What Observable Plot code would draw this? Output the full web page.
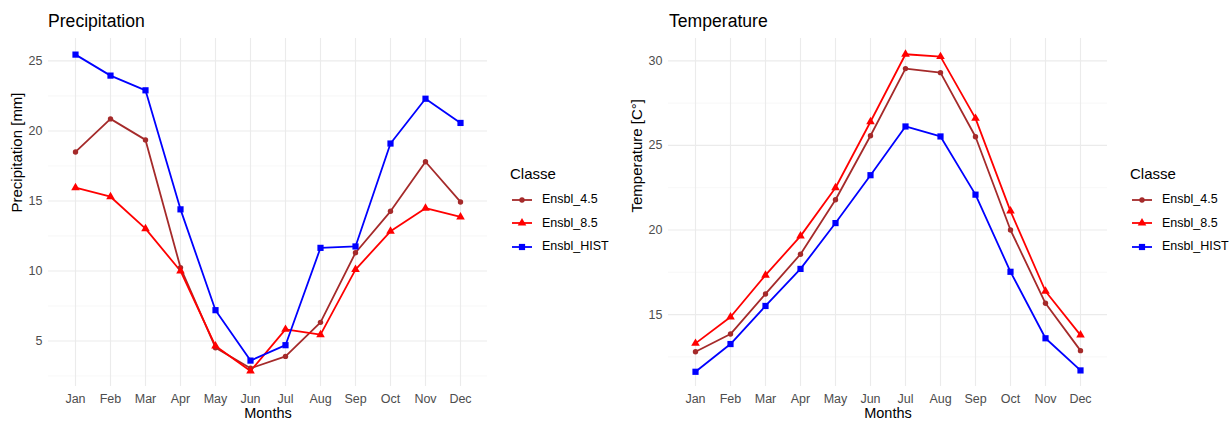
<!DOCTYPE html>
<html><head><meta charset="utf-8">
<script src="https://cdn.jsdelivr.net/npm/d3@7"></script>
<script src="https://cdn.jsdelivr.net/npm/@observablehq/plot@0.6"></script>
<style>
body{margin:0;background:#fff;font-family:"Liberation Sans",Arial,sans-serif;}
#root{position:relative;width:1231px;height:421px;overflow:hidden;background:#fff;}
.title{position:absolute;font-size:17.6px;line-height:17.6px;color:#000;white-space:nowrap;}
.panel{position:absolute;top:30px;}
.legend{position:absolute;top:0;}
.ltitle{position:absolute;font-size:15px;line-height:15px;color:#000;white-space:nowrap;}
.litem{position:absolute;font-size:12.5px;line-height:12.5px;color:#000;white-space:nowrap;}
</style></head><body><div id="root"></div>
<script>
const months = ["Jan","Feb","Mar","Apr","May","Jun","Jul","Aug","Sep","Oct","Nov","Dec"];
const classes = ["Ensbl_4.5","Ensbl_8.5","Ensbl_HIST"];
const colors = ["#A52A2A","#FF0000","#0000FF"];
const symbols = ["circle","triangle","square"];

// Precipitation [mm]
const precip45   = [18.5, 20.86, 19.36, 10.24, 4.52, 3.05, 3.9, 6.33, 11.3, 14.26, 17.8, 14.93];
const precip85   = [15.95, 15.3, 13.02, 10.0, 4.64, 2.86, 5.83, 5.45, 10.1, 12.83, 14.48, 13.86];
const precipHIST = [25.45, 23.95, 22.9, 14.4, 7.2, 3.6, 4.7, 11.65, 11.75, 19.1, 22.3, 20.57];
const precipTicks = [5, 10, 15, 20, 25];
const precipMinor = [2.5, 7.5, 12.5, 17.5, 22.5];

// Temperature [C°]
const temp45   = [12.8, 13.85, 16.22, 18.57, 21.79, 25.57, 29.54, 29.3, 25.51, 20.0, 15.67, 12.87];
const temp85   = [13.3, 14.86, 17.33, 19.64, 22.5, 26.4, 30.39, 30.25, 26.6, 21.12, 16.38, 13.79];
const tempHIST = [11.62, 13.26, 15.51, 17.7, 20.41, 23.24, 26.12, 25.53, 22.09, 17.53, 13.6, 11.7];
const tempTicks = [15, 20, 25, 30];
const tempMinor = [12.5, 17.5, 22.5, 27.5];

const root = document.getElementById("root");
const FONT = "Liberation Sans, Arial, sans-serif";
const symbolRadius = {circle: 2.7, triangle: 3.2, square: 3.5};
const LINE_W = 1.8;

function panel(series, yDomain, yTicks, yMinor, yLabel) {
  const data = [];
  classes.forEach((c, i) => series[i].forEach((v, j) => data.push({month: months[j], value: v, classe: c})));
  const dots = classes.map((c, i) =>
    Plot.dot(data.filter(d => d.classe === c), {x: "month", y: "value", symbol: "classe", fill: "classe", r: symbolRadius[symbols[i]]}));
  return Plot.plot({
    width: 495, height: 391,
    marginLeft: 48, marginRight: 8, marginTop: 8, marginBottom: 35,
    style: {fontFamily: FONT, fontSize: "12.5px", background: "transparent", overflow: "visible"},
    x: {type: "point", domain: months, padding: 0.6, label: null},
    y: {domain: yDomain, label: null},
    color: {domain: classes, range: colors},
    symbol: {domain: classes, range: symbols},
    marks: [
      Plot.ruleY(yMinor, {stroke: "#F3F3F3", strokeWidth: 0.7}),
      Plot.ruleY(yTicks, {stroke: "#EBEBEB", strokeWidth: 1.1}),
      Plot.ruleX(months, {stroke: "#EBEBEB", strokeWidth: 1.1}),
      Plot.axisX({tickSize: 0, tickPadding: 7.5, fill: "#4D4D4D", fontSize: 12.5, label: null}),
      Plot.axisY({ticks: yTicks, tickSize: 0, tickPadding: 6, fill: "#4D4D4D", fontSize: 12.5, label: null}),
      Plot.text(["Months"], {frameAnchor: "bottom", lineAnchor: "middle", text: d => d, dy: 26.5, fontSize: 14.5, fill: "#000"}),
      Plot.text([yLabel], {frameAnchor: "left", lineAnchor: "middle", text: d => d, dx: -31, rotate: -90, fontSize: 15, fill: "#000"}),
      Plot.line(data, {x: "month", y: "value", stroke: "classe", z: "classe", strokeWidth: LINE_W}),
      ...dots
    ]
  });
}

function addTitle(text, left) {
  const d = document.createElement("div");
  d.className = "title"; d.textContent = text;
  d.style.left = left + "px"; d.style.top = "12.6px";
  root.appendChild(d);
}

function addLegend(left) {
  const g = document.createElement("div");
  g.className = "legend"; g.style.left = left + "px";
  const t = document.createElement("div");
  t.className = "ltitle"; t.textContent = "Classe";
  t.style.left = "0px"; t.style.top = "166px";
  g.appendChild(t);
  const ys = [199.5, 223, 246.5];
  classes.forEach((c, i) => {
    const svg = d3.create("svg").attr("width", 24).attr("height", 12)
      .style("position", "absolute").style("left", "0px").style("top", (ys[i] - 6) + "px");
    svg.append("line").attr("x1", 2).attr("x2", 22).attr("y1", 6).attr("y2", 6)
      .attr("stroke", colors[i]).attr("stroke-width", LINE_W);
    const sym = {circle: d3.symbolCircle, triangle: d3.symbolTriangle, square: d3.symbolSquare}[symbols[i]];
    const r = symbolRadius[symbols[i]];
    svg.append("path").attr("transform", "translate(12,6)")
      .attr("d", d3.symbol(sym, r * r * Math.PI)()).attr("fill", colors[i]);
    g.appendChild(svg.node());
    const l = document.createElement("div");
    l.className = "litem"; l.textContent = c;
    l.style.left = "32px"; l.style.top = (ys[i] - 6.1) + "px";
    g.appendChild(l);
  });
  root.appendChild(g);
}

const p1 = panel([precip45, precip85, precipHIST], [1.75, 26.6], precipTicks, precipMinor, "Precipitation [mm]");
p1.classList.add("panel"); p1.style.left = "0px";
root.appendChild(p1);
addTitle("Precipitation", 48);
addLegend(510);

const p2 = panel([temp45, temp85, tempHIST], [10.75, 31.32], tempTicks, tempMinor, "Temperature [C°]");
p2.classList.add("panel"); p2.style.left = "620px";
root.appendChild(p2);
addTitle("Temperature", 669);
addLegend(1130);
</script></body></html>
